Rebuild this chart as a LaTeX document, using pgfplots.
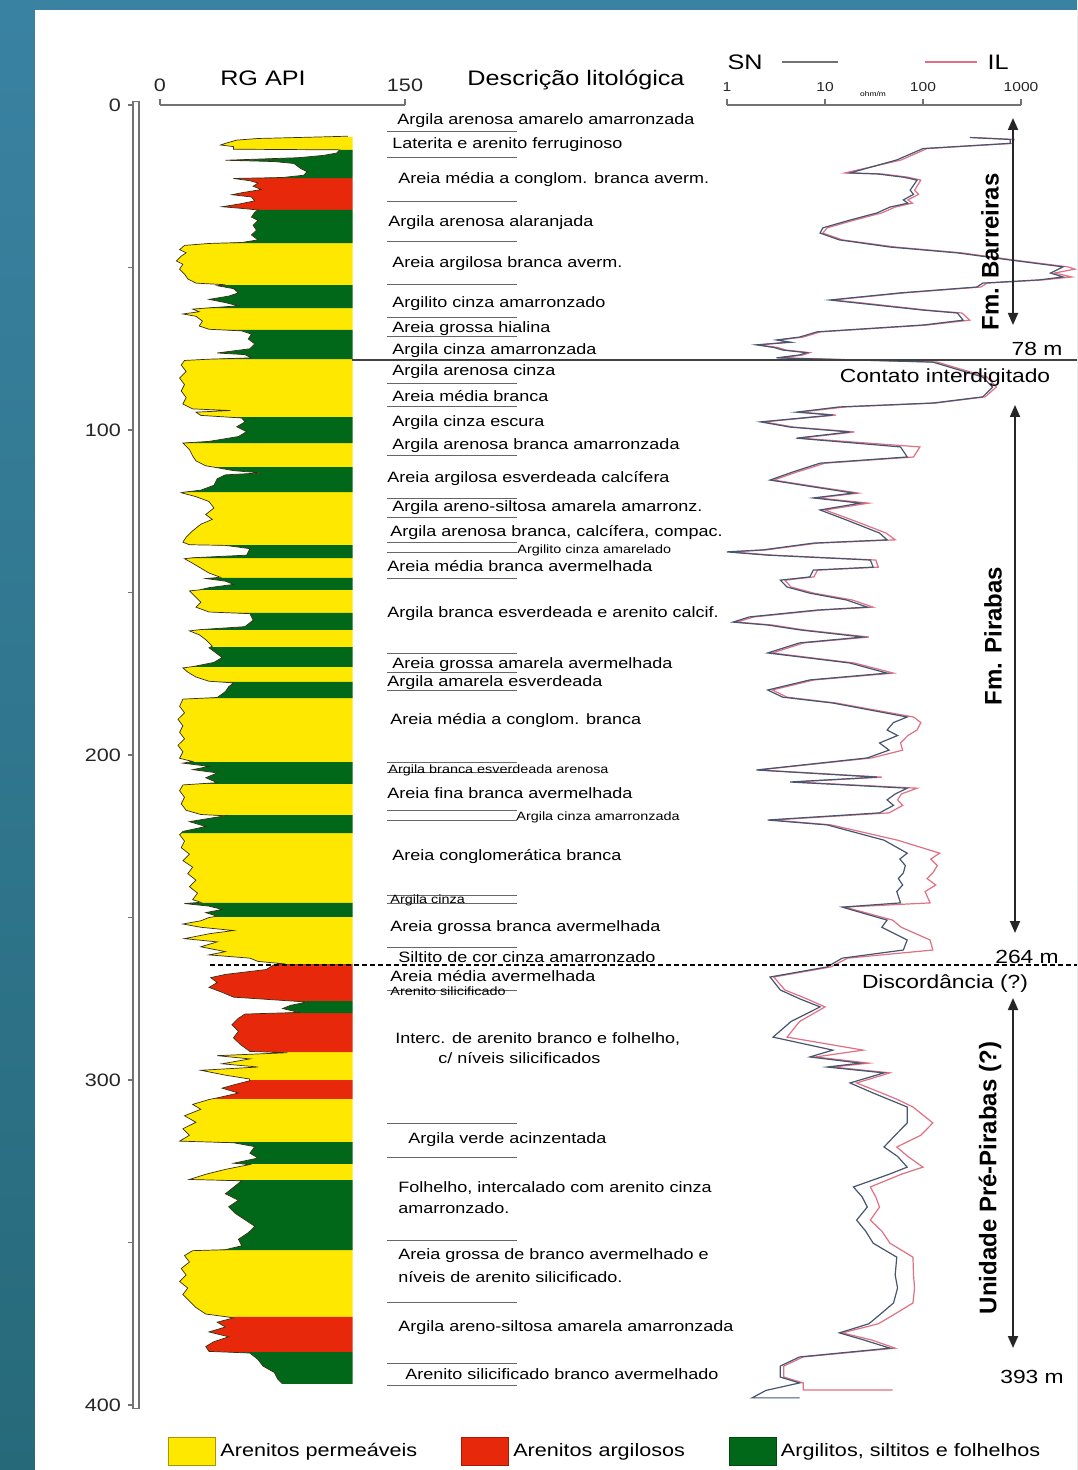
\documentclass[border=0pt]{standalone}
\usepackage{pgfplots}
\pgfplotsset{compat=1.18}
\usepackage{pgfplotstable}
\usepackage{fontspec}
\setmainfont{Liberation Sans}[FakeStretch=1.2]
\newfontfamily\rotfont{Liberation Sans}
\usetikzlibrary{arrows.meta}

\definecolor{litY}{RGB}{255,232,0}
\definecolor{litR}{RGB}{232,40,10}
\definecolor{litG}{RGB}{0,104,24}
\definecolor{snC}{RGB}{70,85,112}
\definecolor{ilC}{RGB}{224,112,132}
\definecolor{grC}{RGB}{55,45,15}
\definecolor{bgA}{RGB}{58,130,162}
\definecolor{bgB}{RGB}{38,106,122}

\newcommand\dsc{\fontsize{7.5}{9}\selectfont}
\newcommand\dss{\fontsize{6}{7}\selectfont}
\newcommand\hdr{\fontsize{10.5}{12}\selectfont}
\newcommand\lgf{\fontsize{9}{11}\selectfont}
\newcommand\tkf{\fontsize{9}{11}\selectfont}
\newcommand\rtk{\fontsize{6.5}{8}\selectfont}

\pgfplotsset{boxlegend/.style={legend image code/.code={\draw[##1] (0pt,-7pt) rectangle (23.5pt,7pt);}}}

% lithology intervals (top depth in m, bar length for each class)
\pgfplotstableread{
d yel red grn
9.8 118 0 0
13.8 0 0 118
22.5 0 118 0
32.3 0 0 118
42.5 118 0 0
55.4 0 0 118
62.5 118 0 0
69.2 0 0 118
78.2 118 0 0
96 0 0 118
104 118 0 0
111.4 0 0 118
119.1 118 0 0
135.4 0 0 118
139.4 118 0 0
145.5 0 0 118
149.2 118 0 0
156.3 0 0 118
161.5 118 0 0
166.8 0 0 118
172.9 118 0 0
177.5 0 0 118
182.5 118 0 0
202.2 0 0 118
208.9 118 0 0
218.5 0 0 118
224 118 0 0
245.5 0 0 118
249.8 118 0 0
264.3 0 118 0
275.7 0 0 118
279.4 0 118 0
291.4 118 0 0
300 0 118 0
305.8 118 0 0
319.1 0 0 118
325.8 118 0 0
330.8 0 0 118
352.3 118 0 0
372.9 0 118 0
383.7 0 0 118
393.5 0 0 0
}\litho

% gamma ray (RG API) log
\pgfplotstableread{
d api
9.6 115
9.8 100
10.3 60
10.8 47
11.8 40
12.3 37
12.8 45
13.6 45
13.8 110
14.8 108
15.5 100
16.2 85
17.0 40
17.4 70
18.0 82
19.5 86
20.5 90
21.6 88
22.3 75
22.6 45
23.3 55
24.0 60
25.0 57
26.0 62
27.0 50
27.6 44
28.3 56
29.5 58
30.5 48
31.3 38
31.9 52
32.3 60
33.0 58
34.5 56
35.5 60
37.0 57
38.5 59
40.0 56
41.5 60
42.3 50
42.6 30
43.2 15
44.5 12
45.5 16
46.5 13
48.0 10
49.0 14
50.5 12
52.0 15
53.5 17
54.8 22
55.3 40
55.6 35
56.5 45
57.8 48
58.8 42
59.8 30
60.8 40
61.8 48
62.4 30
62.8 20
63.6 24
64.3 14
65.0 22
66.5 26
68.0 24
69.0 30
69.5 50
70.5 56
72.0 54
73.5 58
75.0 55
76.3 35
76.8 52
77.8 56
78.2 30
78.6 15
80.0 13
82.0 16
84.0 12
86.0 15
88.0 13
90.0 16
92.0 14
93.5 20
94.0 43
94.5 22
95.5 25
96.3 50
97.5 52
99.0 47
100.5 53
102.0 48
103.5 30
104.0 14
104.5 15
106.0 18
108.0 20
109.5 22
111.0 28
111.6 35
112.5 45
113.2 62
113.8 40
115.0 35
117.0 33
118.5 25
119.1 15
119.3 13
120.5 22
122.0 30
124.0 33
126.0 28
127.5 32
129.0 25
131.0 20
133.0 16
134.5 14
135.3 18
135.5 40
136.5 55
138.5 53
139.3 20
139.6 15
141.0 20
142.5 25
144.0 30
145.3 37
145.7 28
146.5 40
147.5 45
148.5 30
149.2 24
149.5 18
151.0 21
153.0 25
154.5 22
156.0 30
156.5 55
158.5 57
160.5 52
161.4 25
161.8 18
163.0 24
164.5 28
166.5 32
167.0 30
168.5 34
170.0 38
171.5 33
172.8 20
173.2 14
174.5 17
176.0 22
177.3 30
177.8 45
179.0 42
180.5 40
182.3 35
182.8 14
185.0 12
187.0 15
189.0 11
191.0 14
193.0 12
195.0 15
197.0 11
199.0 14
201.0 12
202.0 20
202.5 14
203.5 30
204.5 20
205.5 35
207.0 28
208.5 35
209.2 14
211.0 12
213.0 15
215.0 13
217.0 16
218.3 25
218.7 40
219.5 30
220.5 18
222.0 28
223.5 14
224.5 12
226.5 15
228.5 13
230.5 18
232.5 14
234.5 20
236.5 17
238.5 22
240.5 18
242.5 23
244.5 20
245.3 25
245.7 15
246.5 30
247.5 38
248.5 28
249.6 35
250.0 30
251.0 25
252.0 14
253.0 25
254.0 45
255.0 30
256.5 15
257.5 35
259.0 25
260.5 40
261.5 30
262.5 55
263.5 60
264.2 75
264.5 70
266.0 65
267.5 40
268.5 31
270.0 35
271.5 30
273.0 38
274.5 45
275.5 75
276.0 90
277.0 80
278.0 75
279.2 85
279.7 52
281.0 48
283.0 44
285.0 48
287.0 45
289.0 49
291.2 55
291.6 78
292.5 35
293.5 55
295.0 38
296.0 60
297.0 25
298.5 40
299.7 55
300.2 55
301.5 45
302.5 38
304.0 48
305.5 35
306.0 30
307.5 20
309.0 25
311.0 15
313.0 22
315.0 14
317.0 18
318.8 12
319.3 45
320.5 58
322.5 55
324.0 60
325.6 45
326.0 55
327.5 40
329.0 28
330.6 18
331.0 50
333.0 45
335.0 40
337.0 48
339.0 42
341.0 46
343.0 52
345.0 58
347.0 54
349.0 48
351.0 50
352.2 40
352.5 20
354.0 15
356.0 18
358.0 13
360.0 16
362.0 12
364.0 17
366.0 14
368.0 18
370.0 22
372.0 28
372.8 40
373.2 45
374.5 35
376.0 40
377.5 30
379.0 42
380.5 33
382.0 28
383.5 30
384.0 55
386.0 60
388.0 63
390.0 70
392.0 72
393.5 75
}\grtab

% SN resistivity (ohm.m)
\pgfplotstableread{
d r
10.0 300
10.6 776
11.8 776
13.4 100
16.9 54
20.9 18
21.2 34
22.2 63
23.1 87
26.2 74
27.5 80
29.2 63
30.2 70
31.4 46
33.2 34
35.4 18
37.8 9.5
39.4 8.9
41.5 14
43.7 46
45.5 224
47.7 776
49.8 2690
51.7 2000
52.9 2690
53.8 1550
54.8 407
56.0 355
57.8 59
60.0 11.2
60.9 21
63.1 100
64.0 224
66.2 257
67.7 100
69.8 8.3
71.4 5.5
72.3 3.2
73.0 4.5
73.8 2.0
74.6 3.0
75.4 3.7
76.2 6.5
76.9 5.5
77.8 3.2
79.1 126
83.7 407
86.8 513
89.8 407
91.7 126
92.9 14
94.5 5.1
95.4 12
97.5 2.2
99.1 4.4
100.6 18
102.5 5.1
105.2 59
108.3 69
110.2 8.9
112.9 4.7
115.4 2.75
117.5 7.6
119.4 19.5
120.9 7.6
122.5 23
124.6 8.9
127.7 16.6
131.7 36
133.8 43
134.8 7.6
136.9 2.3
137.5 1.0
138.5 2.6
140.0 29
142.2 31
143.1 7.6
145.2 7.0
146.2 3.5
148.3 4.1
150.2 7.0
152.3 16.6
154.5 27
155.4 8.3
157.5 1.7
159.1 1.15
160.0 2.6
161.5 5.5
163.7 24.5
165.5 5.5
168.6 2.6
169.8 5.5
171.7 18
174.8 43
176.9 7.0
180.0 2.6
182.2 3.7
184.0 12
188.3 69
190.0 50
192.3 43
194.0 55
196.3 36
198.5 45
200.9 27
204.6 2.0
206.8 34
208.3 4.4
210.2 69
212.0 52
213.8 43
215.5 50
217.8 36
220.0 2.6
221.5 10.5
226.2 40
230.2 69
232.0 58
234.0 66
236.3 63
238.0 56
240.0 62
242.0 54
245.5 59
246.8 15
250.8 43
253.0 38
256.9 69
260.0 63
262.5 15
265.2 10.5
268.3 2.75
272.3 3.5
275.0 5.5
277.5 8.9
282.0 4.5
286.8 2.95
290.8 12
292.9 7.0
294.8 23
296.0 10.5
297.8 40
300.9 18
304.0 31
306.0 45
308.3 69
313.2 69
317.0 52
320.6 40
323.5 55
326.8 69
329.0 45
332.9 19.5
336.0 24
339.1 27
343.1 21
346.5 26
350.2 31
354.5 54
360.0 52
364.0 55
368.6 50
372.9 34
375.0 28
377.8 14
380.0 25
382.5 46
385.2 5.5
388.0 3.5
391.4 3.5
393.2 5.5
395.5 2.5
397.8 1.8
397.8 5.5
}\sntab

% IL resistivity (ohm.m)
\pgfplotstableread{
d r
10.0 330
10.6 850
11.8 820
13.4 110
16.9 60
20.9 16
21.2 38
22.2 70
23.1 95
26.2 82
27.5 90
29.2 70
30.2 78
31.4 52
33.2 38
35.4 20
37.8 10.5
39.4 9.5
41.5 15
43.7 52
45.5 250
47.7 850
49.8 3000
50.5 3550
51.7 2200
52.9 3300
53.8 1700
54.8 450
56.0 390
57.8 65
60.0 12
60.9 24
63.1 110
64.0 250
66.2 300
67.7 110
69.8 9
71.4 6
72.3 3.4
73.0 4.0
73.8 2.1
74.6 3.3
75.4 4.0
76.2 7.0
76.9 6.0
77.8 3.5
79.1 140
83.7 450
86.8 560
89.8 430
91.7 135
92.9 16
94.5 5.6
95.4 13
97.5 2.4
99.1 4.8
100.6 20
102.5 5.6
105.2 93
108.3 80
110.2 10
112.9 5.2
115.4 3.0
117.5 8.4
119.4 22
120.9 8.4
122.5 28
124.6 10
127.7 19
131.7 42
133.8 52
134.8 8.4
136.9 2.5
137.5 1.1
138.5 2.9
140.0 33
142.2 35
143.1 8.4
145.2 7.7
146.2 3.9
148.3 4.5
150.2 7.7
152.3 19
154.5 31
155.4 9.2
157.5 1.9
159.1 1.25
160.0 2.9
161.5 6.1
163.7 28
165.5 6.1
168.6 2.9
169.8 6.1
171.7 20
174.8 50
176.9 7.7
180.0 2.9
182.2 4.1
184.0 13
188.3 80
190.0 95
192.3 87
194.0 70
196.3 59
198.5 62
200.9 30
204.6 2.1
206.8 38
208.3 4.8
210.2 87
212.0 60
213.8 55
215.5 62
217.8 45
220.0 2.9
221.5 11.5
226.2 55
230.2 148
232.0 120
234.0 140
236.3 126
238.0 110
240.0 135
242.0 105
245.5 118
246.8 16
250.8 49
253.0 60
256.9 118
260.0 126
262.5 17
265.2 11.5
268.3 3.0
272.3 3.9
275.0 6.5
277.5 10
282.0 5.5
286.8 4.1
290.8 24.5
292.9 8
294.8 28
296.0 12
297.8 46
300.9 21
304.0 38
306.0 55
308.3 79
313.2 126
317.0 95
320.6 54
323.5 70
326.8 100
329.0 60
332.9 29
336.0 33
339.1 36
343.1 29
346.5 38
350.2 46
354.5 79
360.0 80
364.0 82
368.6 79
372.9 46
375.0 35
377.8 15
380.0 30
382.5 52
385.2 6
388.0 3.8
391.4 3.8
393.2 6
395.4 6
395.4 49
}\iltab

\begin{document}
\begin{tikzpicture}[x=0.5pt,y=-0.5pt]
\useasboundingbox (0,0) rectangle (1077,1470);
\shade[top color=bgA, bottom color=bgB] (0,0) rectangle (1077,1470);
\fill[white] (35,10) rectangle (1077,1470);

% ---------- depth axis ----------
\begin{axis}[at={(66.5pt,-50.875pt)}, anchor=north west, scale only axis,
  width=3pt, height=653.25pt, xmin=0, xmax=1, ymin=-1, ymax=401, y dir=reverse,
  xtick=\empty, ytick={0,50,...,400}, yticklabels={0,,100,,200,,300,,400},
  ytick pos=left, tick align=outside, major tick length=2.5pt,
  axis line style={black!55, line width=0.6pt},
  every tick/.style={black!55, line width=0.6pt},
  yticklabel style={font=\tkf, text=black!85},
  /pgf/number format/assume math mode=true]
\end{axis}

% ---------- RG API track ----------
\begin{axis}[at={(80pt,-52.5pt)}, anchor=north west, scale only axis,
  width=122.5pt, height=650pt, xmin=0, xmax=150, ymin=0, ymax=400, y dir=reverse,
  axis x line*=top, axis y line=none,
  xtick={0,150}, xticklabels={0,150}, tick align=outside, major tick length=3pt,
  axis line style={black!55, line width=0.6pt},
  every tick/.style={black!55, line width=0.6pt},
  xticklabel style={font=\tkf, text=black!85},
  /pgf/number format/assume math mode=true,
  legend columns=3,
  legend style={at={(axis description cs:0.0327,-0.0354)}, anchor=west, draw=none,
    fill=none, inner sep=0pt, font=\lgf, cells={anchor=west},
    /tikz/every even column/.append style={column sep=20pt}}]
\addplot[xbar interval, fill=litY, draw=none, forget plot] table[x=yel, y=d] {\litho};
\addplot[xbar interval, fill=litR, draw=none, forget plot] table[x=red, y=d] {\litho};
\addplot[xbar interval, fill=litG, draw=none, forget plot] table[x=grn, y=d] {\litho};
\addplot[fill=white, draw=none, forget plot] table[x=api, y=d] {\grtab}
   -- (axis cs:0,393.5) -- (axis cs:0,9.6) -- cycle;
\addplot[grC, line width=0.35pt, forget plot] table[x=api, y=d] {\grtab};
\addlegendimage{boxlegend, fill=litY, draw=litY!65!black, line width=0.5pt}
\addlegendentry{Arenitos permeáveis}
\addlegendimage{boxlegend, fill=litR, draw=litR!70!black, line width=0.5pt}
\addlegendentry{Arenitos argilosos}
\addlegendimage{boxlegend, fill=litG, draw=litG!70!black, line width=0.5pt}
\addlegendentry{Argilitos, siltitos e folhelhos}
\end{axis}

% ---------- resistivity track ----------
\begin{axis}[at={(363.5pt,-52.5pt)}, anchor=north west, scale only axis,
  width=147pt, height=650pt, xmode=log, xmin=1, xmax=1000, ymin=0, ymax=400,
  y dir=reverse, clip=false,
  axis x line*=top, axis y line=none, xminorticks=false,
  xtick={1,10,100,1000}, xticklabels={1,10,100,1000},
  tick align=outside, major tick length=3pt,
  axis line style={black!55, line width=0.6pt},
  every tick/.style={black!55, line width=0.6pt},
  xticklabel style={font=\rtk, text=black!85},
  /pgf/number format/assume math mode=true]
\addplot[ilC, line width=0.6pt] table[x=r, y=d] {\iltab};
\addplot[snC, line width=0.6pt] table[x=r, y=d] {\sntab};
\end{axis}

% ---------- headers ----------
\node[font=\hdr] at (263,78) {RG API};
\node[font=\hdr] at (576,80) {Descrição litológica};
\node[font=\hdr] at (745,62) {SN};
\draw[black!55, line width=0.6pt] (782,62) -- (838,62);
\draw[ilC, line width=0.6pt] (925,62) -- (977,62);
\node[font=\hdr] at (998,62) {IL};
\node[font=\fontsize{3.5}{4}\selectfont] at (873,94) {ohm/m};

% ---------- boundaries ----------
\draw[black!75, line width=0.8pt] (352,360) -- (1077,360);
\draw[black, line width=1.3pt, dash pattern=on 2.5pt off 1.5pt] (210,965) -- (1077,965);

% ---------- description separators ----------
\foreach \yy in {132,158,202,242,285,318,337,384,407,455,498,517,542,552,578,653,672,690,762,772,810,820,895,903,947,990,1123,1157,1240,1302,1363,1385}
  \draw[black!60, line width=0.5pt] (387,\yy) -- (517,\yy);

% ---------- descriptions ----------
\begin{scope}[every node/.style={anchor=west, inner sep=0pt, font=\dsc}]
\node at (397,121) {Argila arenosa amarelo amarronzada};
\node at (392,145) {Laterita e arenito ferruginoso};
\node at (398,180) {Areia média a conglom. branca averm.};
\node at (388,223) {Argila arenosa alaranjada};
\node at (392,264) {Areia argilosa branca averm.};
\node at (392,304) {Argilito cinza amarronzado};
\node at (392,329) {Areia grossa hialina};
\node at (392,351) {Argila cinza amarronzada};
\node at (392,372) {Argila arenosa cinza};
\node at (392,396) {Areia média branca};
\node at (392,423) {Argila cinza escura};
\node at (392,446) {Argila arenosa branca amarronzada};
\node at (387,479) {Areia argilosa esverdeada calcífera};
\node at (392,508) {Argila areno-siltosa amarela amarronz.};
\node at (390,533) {Argila arenosa branca, calcífera, compac.};
\node[font=\dss] at (517,550) {Argilito cinza amarelado};
\node at (387,566) {Areia média branca avermelhada};
\node at (387,614) {Argila branca esverdeada e arenito calcif.};
\node at (392,665) {Areia grossa amarela avermelhada};
\node at (387,683) {Argila amarela esverdeada};
\node at (390,721) {Areia média a conglom. branca};
\node[font=\dss] at (388,770) {Argila branca esverdeada arenosa};
\node at (387,793) {Areia fina branca avermelhada};
\node[font=\dss] at (516,817) {Argila cinza amarronzada};
\node at (392,857) {Areia conglomerática branca};
\node[font=\dss] at (390,900) {Argila cinza};
\node at (390,928) {Areia grossa branca avermelhada};
\node at (398,957) {Siltito de cor cinza amarronzado};
\node at (390,976) {Areia média avermelhada};
\node[font=\dss] at (390,991) {Arenito silicificado};
\node at (395,1039) {Interc. de arenito branco e folhelho,};
\node at (438,1058) {c/ níveis silicificados};
\node at (408,1140) {Argila verde acinzentada};
\node at (398,1188) {Folhelho, intercalado com arenito cinza};
\node at (398,1208) {amarronzado.};
\node at (398,1256) {Areia grossa de branco avermelhado e};
\node at (398,1277) {níveis de arenito silicificado.};
\node at (398,1328) {Argila areno-siltosa amarela amarronzada};
\node at (405,1374) {Arenito silicificado branco avermelhado};
\end{scope}

% ---------- formations ----------
\begin{scope}[>={Triangle[length=6pt,width=5pt]}]
\draw[black!85, line width=0.9pt, <->] (1013,118) -- (1013,325);
\draw[black!85, line width=0.9pt, <->] (1015,405) -- (1015,933);
\draw[black!85, line width=0.9pt, <->] (1013,998) -- (1013,1348);
\end{scope}
\node[rotate=90, font=\rotfont\bfseries\fontsize{12}{14}\selectfont] at (990,252) {Fm. Barreiras};
\node[rotate=90, font=\rotfont\bfseries\fontsize{12}{14}\selectfont] at (993,636) {Fm. Pirabas};
\node[rotate=90, font=\rotfont\bfseries\fontsize{12}{14}\selectfont] at (990,1178) {Unidade Pré-Pirabas (?)};
\node[font=\fontsize{9.5}{11}\selectfont] at (1037,349) {78 m};
\node[font=\fontsize{9.5}{11}\selectfont] at (945,378) {Contato interdigitado};
\node[font=\fontsize{9.5}{11}\selectfont] at (1027,957) {264 m};
\node[font=\fontsize{9.5}{11}\selectfont] at (945,984) {Discordância (?)};
\node[font=\fontsize{9.5}{11}\selectfont] at (1032,1377) {393 m};
\end{tikzpicture}
\end{document}
